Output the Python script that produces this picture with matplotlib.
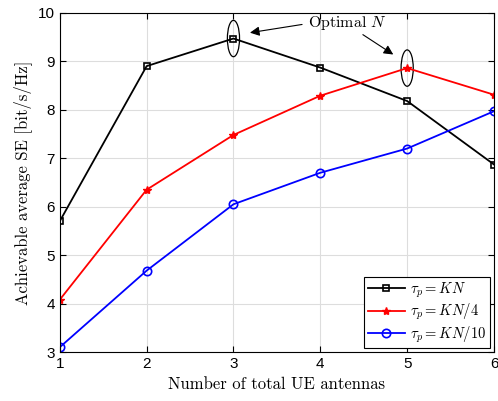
import numpy as np
import matplotlib.pyplot as plt
from matplotlib.patches import Ellipse

plt.rcParams['mathtext.fontset'] = 'cm'
plt.rcParams['font.family'] = ['Liberation Sans', 'DejaVu Sans']

# данные
n_antennas = [1, 2, 3, 4, 5, 6]
se_kn = [5.70, 8.90, 9.47, 8.87, 8.18, 6.87]
se_kn4 = [4.08, 6.35, 7.48, 8.29, 8.86, 8.31]
se_kn10 = [3.10, 4.68, 6.05, 6.70, 7.20, 7.97]
labels = [r'$\tau_p = KN$', r'$\tau_p = KN/4$', r'$\tau_p = KN/10$']

fig = plt.figure(figsize=(4.98, 4.01), dpi=100)
ax = fig.add_axes([0.12, 0.122, 0.872, 0.846])

ax.plot(n_antennas, se_kn, color='black', marker='s', markersize=5,
        markerfacecolor='none', markeredgewidth=1.2, linewidth=1.3, label=labels[0])
ax.plot(n_antennas, se_kn4, color='red', marker='*', markersize=6,
        linewidth=1.3, label=labels[1])
ax.plot(n_antennas, se_kn10, color='blue', marker='o', markersize=6,
        markerfacecolor='none', markeredgewidth=1.2, linewidth=1.3, label=labels[2])

# эллипсы вокруг оптимумов
ax.add_patch(Ellipse((3, se_kn[2]), 0.14, 0.75, fill=False, edgecolor='black', linewidth=0.9))
ax.add_patch(Ellipse((5, se_kn4[4]), 0.14, 0.75, fill=False, edgecolor='black', linewidth=0.9))

ax.text(4.31, 9.80, 'Optimal $N$', fontsize=11.5, family='cmr10', ha='center', va='center')
arrow = dict(arrowstyle='-|>', color='black', lw=0.8, mutation_scale=14, shrinkA=0, shrinkB=0)
ax.annotate('', xy=(3.19, 9.59), xytext=(3.79, 9.76), arrowprops=arrow)
ax.annotate('', xy=(4.84, 9.14), xytext=(4.49, 9.55), arrowprops=arrow)

ax.set_xlim(1, 6)
ax.set_ylim(3, 10)
ax.set_xticks(n_antennas)
ax.set_yticks(range(3, 11))
ax.tick_params(direction='in', labelsize=11, top=True, right=True, length=4)
ax.grid(True, color='#dddddd', linewidth=0.8)
ax.set_axisbelow(True)
ax.set_xlabel('Number of total UE antennas', family='cmr10', fontsize=12)
ax.set_ylabel('Achievable average SE [bit/s/Hz]', family='cmr10', fontsize=12)

leg = ax.legend(loc='lower right', fontsize=10.5, fancybox=False, framealpha=1,
                edgecolor='black', handlelength=2.5, borderpad=0.25, labelspacing=0.15,
                handletextpad=0.4, borderaxespad=0.25)
leg.get_frame().set_linewidth(0.8)

plt.savefig('out.png', dpi=100)
